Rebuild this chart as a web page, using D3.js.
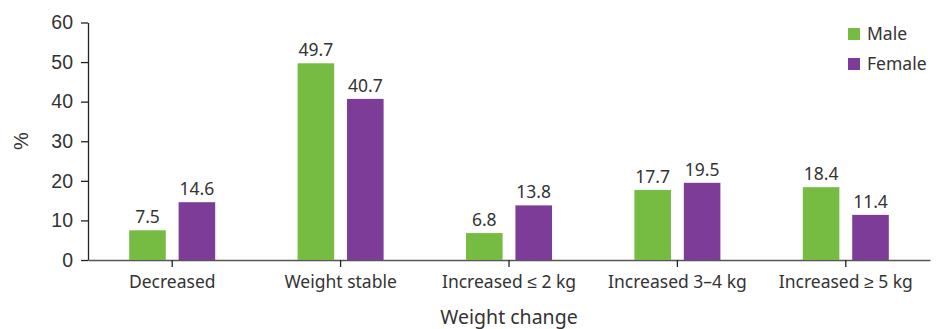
<!DOCTYPE html>
<html><head><meta charset="utf-8">
<script src="https://cdn.jsdelivr.net/npm/d3@7"></script>
<style>body{margin:0;background:#fff}svg{display:block}</style>
</head><body>
<svg id="c" width="942" height="329"></svg>
<script>
const categories = ["Decreased", "Weight stable", "Increased \u2264 2 kg", "Increased 3\u20134 kg", "Increased \u2265 5 kg"];
const series = ["Male", "Female"];
const male = [7.5, 49.7, 6.8, 17.7, 18.4];
const female = [14.6, 40.7, 13.8, 19.5, 11.4];
const yTicks = [0, 10, 20, 30, 40, 50, 60];
const colors = ["#76bc43", "#7d3c98"];

(function () {
const svg = d3.select("#c");
const mLeft = 88, mRight = 930, mTop = 22.5, mBottom = 260;
const x = d3.scaleBand().domain(categories).range([mLeft, mRight]).padding(0);
const y = d3.scaleLinear().domain([0, 60]).range([mBottom, mTop]);
const xs = d3.scaleBand().domain(series).range([-43, 43]).paddingInner(0.26).paddingOuter(0);

const textCol = "#333";
const labFont = "'Noto Sans', sans-serif";

// y axis
const ya = svg.append("g").attr("transform", `translate(${mLeft},0)`)
  .call(d3.axisLeft(y).tickValues(yTicks).tickSize(7).tickPadding(8).tickSizeOuter(0));
ya.select(".domain").attr("stroke", "#222").attr("stroke-width", 1.3);
ya.selectAll(".tick line").attr("stroke", "#222").attr("stroke-width", 1.3);
ya.selectAll("text").attr("font-family", "'Liberation Sans', Arial, sans-serif").attr("font-size", 19.5).attr("fill", textCol);

// x axis
const xa = svg.append("g").attr("transform", `translate(0,${mBottom})`)
  .call(d3.axisBottom(x).tickSize(7).tickPadding(9).tickSizeOuter(0));
xa.select(".domain").attr("stroke", "#555").attr("stroke-width", 1.3);
xa.selectAll(".tick line").attr("stroke", "#222").attr("stroke-width", 1.3);
xa.selectAll("text").attr("font-family", labFont).attr("font-size", 17.5).attr("fill", textCol);

// bars
const data = categories.map((c, i) => ({c, vals: [male[i], female[i]]}));
const g = svg.append("g");
data.forEach(d => {
  series.forEach((s, j) => {
    const v = d.vals[j];
    const cx = x(d.c) + x.bandwidth() / 2 + xs(s);
    g.append("rect").attr("x", cx).attr("y", y(v)).attr("width", xs.bandwidth())
      .attr("height", y(0) - y(v)).attr("fill", colors[j]);
    g.append("text").attr("x", cx + xs.bandwidth() / 2).attr("y", y(v) - 7)
      .attr("text-anchor", "middle").attr("font-family", labFont).attr("font-size", 17.5)
      .attr("fill", textCol).text(v.toFixed(1));
  });
});

// axis titles
svg.append("text").attr("x", (mLeft + mRight) / 2).attr("y", 324).attr("text-anchor", "middle")
  .attr("font-family", labFont).attr("font-size", 19.5).attr("fill", textCol).text("Weight change");
svg.append("text").attr("transform", `translate(28,141) rotate(-90)`).attr("text-anchor", "middle")
  .attr("font-family", "'Liberation Sans', Arial, sans-serif").attr("font-size", 20).attr("fill", textCol).text("%");

// legend
const lg = svg.append("g").attr("transform", "translate(848,28)");
series.forEach((s, j) => {
  lg.append("rect").attr("x", 0).attr("y", j * 30).attr("width", 12).attr("height", 12).attr("fill", colors[j]);
  lg.append("text").attr("x", 19).attr("y", j * 30 + 12).attr("font-family", labFont)
    .attr("font-size", 17.5).attr("fill", textCol).text(s);
});
})();
</script>
</body></html>
